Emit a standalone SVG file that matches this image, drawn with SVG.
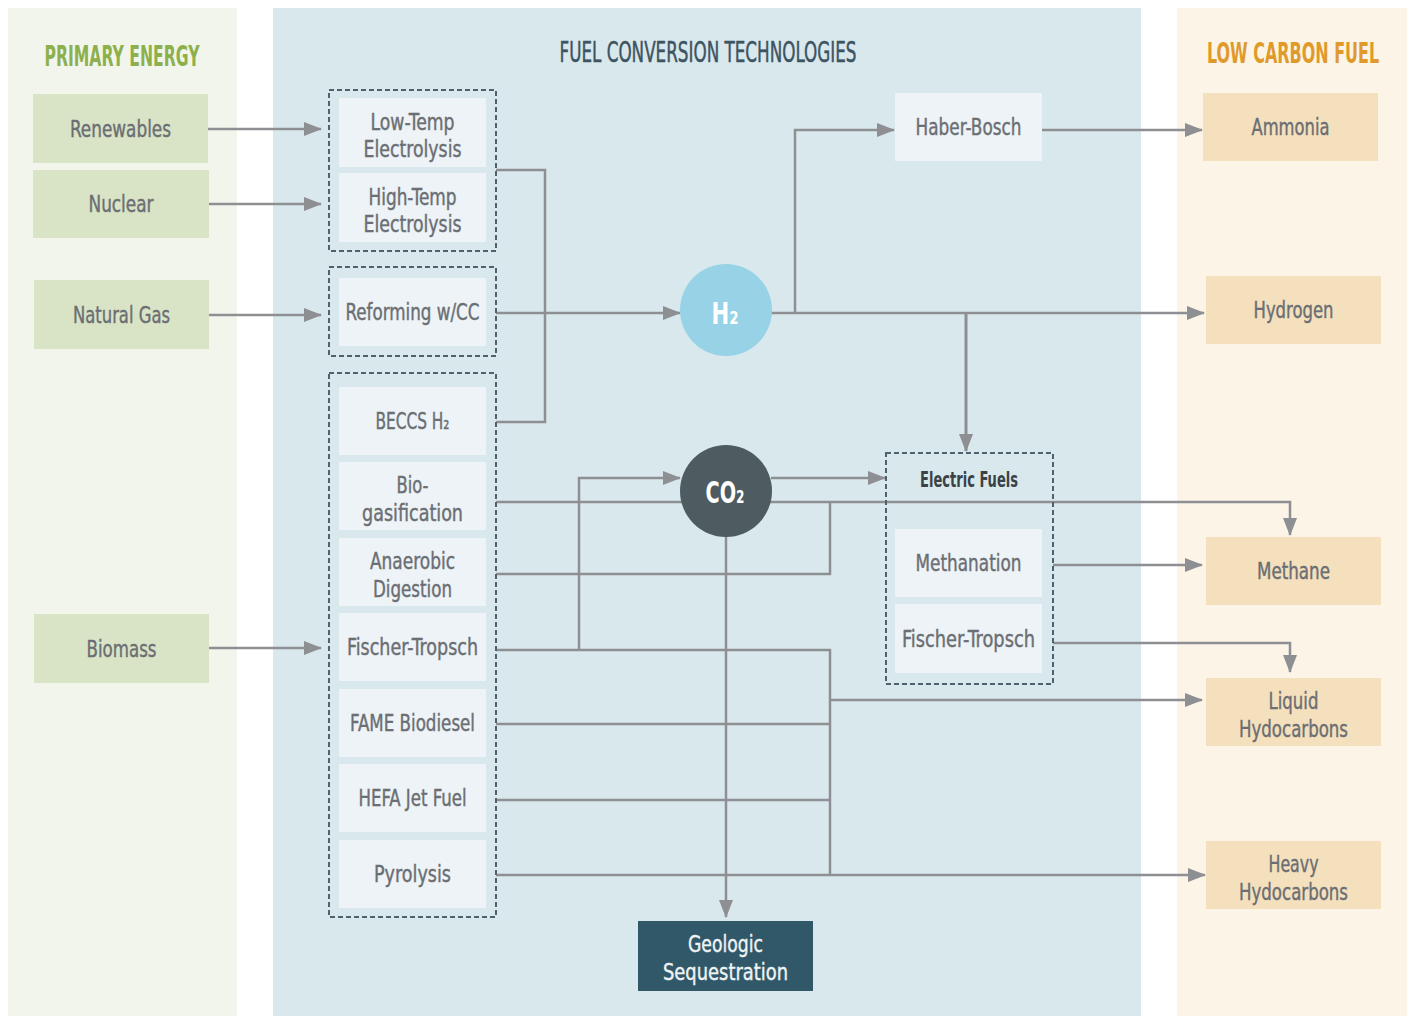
<svg xmlns="http://www.w3.org/2000/svg" width="1410" height="1016" viewBox="0 0 1410 1016">
<style>
text{font-family:"Liberation Sans Narrow","DejaVu Sans Condensed","Roboto Condensed","Liberation Sans",sans-serif;font-stretch:condensed}
.lbl{font-size:23px;fill:#6b6e73;stroke:#6b6e73;stroke-width:0.4;text-anchor:middle}
.hdr{font-size:28px;font-weight:bold;text-anchor:middle}
.grn{fill:#d9e4c7}
.org{fill:#f5e0bd}
.tech{fill:#edf3f6}
.grp{fill:none;stroke:#4d626d;stroke-width:2;stroke-dasharray:5 3}
.con{fill:none;stroke:#8e8f93;stroke-width:2.5}
.arr{marker-end:url(#ah)}
.circ{font-size:30px;font-weight:bold;fill:#ffffff;text-anchor:middle}
</style>
<defs>
<marker id="ah" viewBox="0 0 18 14" refX="17" refY="7" markerWidth="18" markerHeight="14" markerUnits="userSpaceOnUse" orient="auto">
<path d="M0,0 L18,7 L0,14 z" fill="#8e8f93"/>
</marker>
</defs>
<rect width="1410" height="1016" fill="#ffffff"/>
<g id="panels">
<rect x="8" y="8" width="229" height="1008" fill="#f1f5ec"/>
<rect x="273" y="8" width="868" height="1008" fill="#d9e8ed"/>
<rect x="1177" y="8" width="230" height="1008" fill="#fbf4e7"/>
<text class="hdr" x="122" y="66" fill="#8db04c" textLength="155" lengthAdjust="spacingAndGlyphs">PRIMARY ENERGY</text>
<text class="hdr" x="708" y="62" fill="#3d5462" style="font-weight:normal;stroke:#3d5462;stroke-width:0.5" textLength="297" lengthAdjust="spacingAndGlyphs">FUEL CONVERSION TECHNOLOGIES</text>
<text class="hdr" transform="translate(1293,63) scale(0.7,1)" x="0" y="0" fill="#e09a2b" textLength="246" lengthAdjust="spacingAndGlyphs">LOW CARBON FUEL</text>
</g>
<g id="connectors">
<path class="con arr" d="M208,129 H321"/>
<path class="con arr" d="M209,204 H321"/>
<path class="con arr" d="M209,315 H321"/>
<path class="con arr" d="M209,648 H321"/>
<path class="con" d="M496,170 H545 V422 H496"/>
<path class="con arr" d="M496,313 H680"/>
<path class="con arr" d="M771,313 H1204"/>
<path class="con arr" d="M795,313 V130 H894"/>
<path class="con arr" d="M1042,130 H1202"/>
<path class="con arr" d="M966,313 V451" style="stroke-width:3"/>
<path class="con arr" d="M579,650 V478 H680"/>
<path class="con arr" d="M771,478 H885"/>
<path class="con arr" d="M496,502 H1290 V535"/>
<path class="con" d="M496,574 H830 V502"/>
<path class="con" d="M496,650 H830 V875"/>
<path class="con" d="M496,724 H830"/>
<path class="con" d="M496,800 H830"/>
<path class="con arr" d="M496,875 H1205"/>
<path class="con arr" d="M830,700 H1202"/>
<path class="con arr" d="M1053,565 H1202"/>
<path class="con arr" d="M1053,643 H1290 V672"/>
<path class="con arr" d="M726,537 V917"/>
</g>
<g id="renewables"><rect class="grn" x="33" y="94" width="175" height="69"/><text class="lbl" x="120.5" y="137" textLength="101" lengthAdjust="spacingAndGlyphs">Renewables</text></g>
<g id="nuclear"><rect class="grn" x="33" y="170" width="176" height="68"/><text class="lbl" x="121" y="212" textLength="65" lengthAdjust="spacingAndGlyphs">Nuclear</text></g>
<g id="natural-gas"><rect class="grn" x="34" y="280" width="175" height="69"/><text class="lbl" x="121.5" y="323" textLength="97" lengthAdjust="spacingAndGlyphs">Natural Gas</text></g>
<g id="biomass"><rect class="grn" x="34" y="614" width="175" height="69"/><text class="lbl" x="121.5" y="657" textLength="70" lengthAdjust="spacingAndGlyphs">Biomass</text></g>
<g id="electrolysis-group"><rect class="grp" x="329" y="90" width="167" height="161"/></g>
<g id="low-temp"><rect class="tech" x="339" y="98" width="147" height="69"/><text class="lbl" x="412.5" y="130" textLength="84" lengthAdjust="spacingAndGlyphs">Low-Temp</text><text class="lbl" x="412.5" y="157" textLength="98" lengthAdjust="spacingAndGlyphs">Electrolysis</text></g>
<g id="high-temp"><rect class="tech" x="339" y="173" width="147" height="69"/><text class="lbl" x="412.5" y="205" textLength="88" lengthAdjust="spacingAndGlyphs">High-Temp</text><text class="lbl" x="412.5" y="232" textLength="98" lengthAdjust="spacingAndGlyphs">Electrolysis</text></g>
<g id="reforming-group"><rect class="grp" x="329" y="267" width="167" height="89"/></g>
<g id="reforming"><rect class="tech" x="339" y="278" width="147" height="68"/><text class="lbl" x="412.5" y="320" textLength="134" lengthAdjust="spacingAndGlyphs">Reforming w/CC</text></g>
<g id="bio-group"><rect class="grp" x="329" y="373" width="167" height="544"/></g>
<g id="beccs"><rect class="tech" x="339" y="387" width="147" height="68"/><text class="lbl" x="412.5" y="429" textLength="74" lengthAdjust="spacingAndGlyphs">BECCS H₂</text></g>
<g id="biogasification"><rect class="tech" x="339" y="462" width="147" height="68"/><text class="lbl" x="412.5" y="493" textLength="32" lengthAdjust="spacingAndGlyphs">Bio-</text><text class="lbl" x="412.5" y="521" textLength="101" lengthAdjust="spacingAndGlyphs">gasification</text></g>
<g id="anaerobic"><rect class="tech" x="339" y="538" width="147" height="68"/><text class="lbl" x="412.5" y="569" textLength="85" lengthAdjust="spacingAndGlyphs">Anaerobic</text><text class="lbl" x="412.5" y="597" textLength="79" lengthAdjust="spacingAndGlyphs">Digestion</text></g>
<g id="fischer-tropsch-bio"><rect class="tech" x="339" y="613" width="147" height="68"/><text class="lbl" x="412.5" y="655" textLength="131" lengthAdjust="spacingAndGlyphs">Fischer-Tropsch</text></g>
<g id="fame"><rect class="tech" x="339" y="689" width="147" height="68"/><text class="lbl" x="412.5" y="731" textLength="125" lengthAdjust="spacingAndGlyphs">FAME Biodiesel</text></g>
<g id="hefa"><rect class="tech" x="339" y="764" width="147" height="68"/><text class="lbl" x="412.5" y="806" textLength="108" lengthAdjust="spacingAndGlyphs">HEFA Jet Fuel</text></g>
<g id="pyrolysis"><rect class="tech" x="339" y="840" width="147" height="68"/><text class="lbl" x="412.5" y="882" textLength="77" lengthAdjust="spacingAndGlyphs">Pyrolysis</text></g>
<g id="h2"><circle cx="726" cy="310" r="46" fill="#97d2e6"/><text class="circ" x="725" y="324" textLength="27" lengthAdjust="spacingAndGlyphs">H₂</text></g>
<g id="co2"><circle cx="726" cy="491" r="46" fill="#4e5c62"/><text class="circ" x="725" y="503" textLength="39" lengthAdjust="spacingAndGlyphs">CO₂</text></g>
<g id="haber-bosch"><rect class="tech" x="895" y="93" width="147" height="68"/><text class="lbl" x="968.5" y="135" textLength="106" lengthAdjust="spacingAndGlyphs">Haber-Bosch</text></g>
<g id="electric-fuels"><rect class="grp" x="886" y="453" width="167" height="231"/><text x="969" y="487" font-size="21" font-weight="bold" fill="#3a4247" text-anchor="middle" textLength="98" lengthAdjust="spacingAndGlyphs">Electric Fuels</text></g>
<g id="methanation"><rect class="tech" x="895" y="529" width="147" height="68"/><text class="lbl" x="968.5" y="571" textLength="106" lengthAdjust="spacingAndGlyphs">Methanation</text></g>
<g id="fischer-tropsch-ef"><rect class="tech" x="895" y="604" width="147" height="69"/><text class="lbl" x="968.5" y="647" textLength="133" lengthAdjust="spacingAndGlyphs">Fischer-Tropsch</text></g>
<g id="geologic"><rect x="638" y="921" width="175" height="70" fill="#315868"/><text class="lbl" x="725.5" y="952" style="fill:#eef3f5;stroke:#eef3f5" textLength="75" lengthAdjust="spacingAndGlyphs">Geologic</text><text class="lbl" x="725.5" y="980" style="fill:#eef3f5;stroke:#eef3f5" textLength="125" lengthAdjust="spacingAndGlyphs">Sequestration</text></g>
<g id="ammonia"><rect class="org" x="1203" y="93" width="175" height="68"/><text class="lbl" x="1290.5" y="135" textLength="78" lengthAdjust="spacingAndGlyphs">Ammonia</text></g>
<g id="hydrogen"><rect class="org" x="1206" y="276" width="175" height="68"/><text class="lbl" x="1293.5" y="318" textLength="80" lengthAdjust="spacingAndGlyphs">Hydrogen</text></g>
<g id="methane"><rect class="org" x="1206" y="537" width="175" height="68"/><text class="lbl" x="1293.5" y="579" textLength="73" lengthAdjust="spacingAndGlyphs">Methane</text></g>
<g id="liquid"><rect class="org" x="1206" y="678" width="175" height="68"/><text class="lbl" x="1293.5" y="709" textLength="50" lengthAdjust="spacingAndGlyphs">Liquid</text><text class="lbl" x="1293.5" y="737" textLength="109" lengthAdjust="spacingAndGlyphs">Hydocarbons</text></g>
<g id="heavy"><rect class="org" x="1206" y="841" width="175" height="68"/><text class="lbl" x="1293.5" y="872" textLength="50" lengthAdjust="spacingAndGlyphs">Heavy</text><text class="lbl" x="1293.5" y="900" textLength="109" lengthAdjust="spacingAndGlyphs">Hydocarbons</text></g>
</svg>
